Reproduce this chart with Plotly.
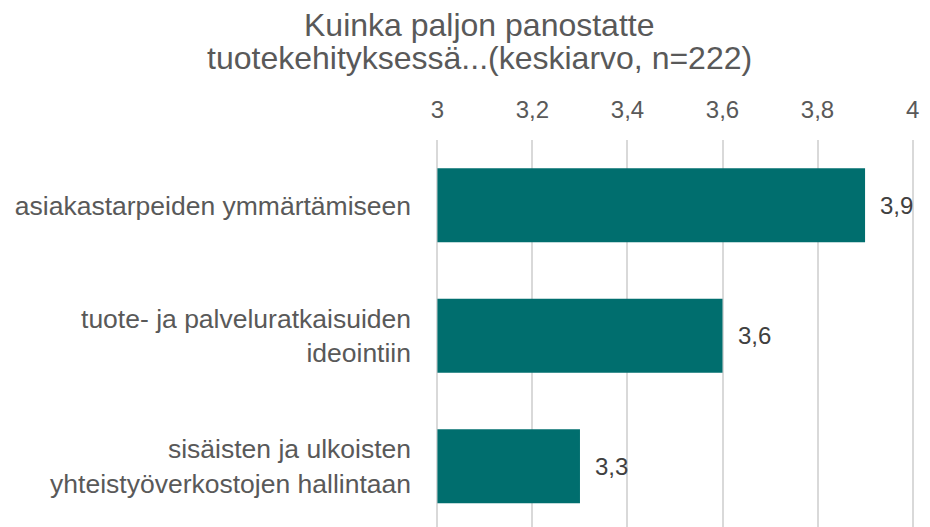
import plotly.graph_objects as go

categories = [
    "asiakastarpeiden ymmärtämiseen",
    "tuote- ja palveluratkaisuiden<br>ideointiin",
    "sisäisten ja ulkoisten<br>yhteistyöverkostojen hallintaan",
]
values = [3.9, 3.6, 3.3]
axis_base = 3
title_lines = ["Kuinka paljon panostatte", "tuotekehityksessä...(keskiarvo, n=222)"]

bar_color = "#006e6e"
grey = "#595959"
font_family = "Liberation Sans, Arial, sans-serif"

# the page body has an 8px margin, so the figure is drawn at (8, 8)
W, H = 922, 519
ML, MR, MT, MB = 428, 16, 132, 0

fig = go.Figure(
    go.Bar(
        x=[v - axis_base for v in values],
        base=[axis_base] * len(values),
        y=categories,
        orientation="h",
        marker=dict(color=bar_color, line=dict(width=0)),
        width=0.567,
        hoverinfo="skip",
    )
)

for c, v in zip(categories, values):
    fig.add_annotation(
        x=v, y=c, xref="x", yref="y",
        text=f"{v:.1f}".replace(".", ","),
        showarrow=False, xanchor="left", yanchor="middle", xshift=13,
        font=dict(family=font_family, size=24, color="#404040"),
    )

# title lines (two separate annotations for exact line spacing)
title_cx = (471 - ML) / (W - ML - MR)
for i, line in enumerate(title_lines):
    fig.add_annotation(
        x=title_cx, y=1, xref="paper", yref="paper", xanchor="center", yanchor="middle",
        yshift=[115, 82][i], text=line, showarrow=False,
        font=dict(family=font_family, size=32, color=grey),
    )

fig.update_layout(
    width=W, height=H,
    margin=dict(l=ML, r=MR, t=MT, b=MB, pad=0),
    paper_bgcolor="white", plot_bgcolor="white",
    separators=", ",
    showlegend=False,
    font=dict(family=font_family, color=grey),
    xaxis=dict(
        side="top", range=[2.997, 4.003], tick0=3, dtick=0.2,
        showgrid=True, gridcolor="#d9d9d9", gridwidth=2,
        zeroline=False, showline=False, ticks="", automargin=False,
        tickfont=dict(family=font_family, size=24, color=grey),
        ticklabelstandoff=16,
    ),
    yaxis=dict(
        type="category", categoryorder="array", categoryarray=categories,
        range=[2.466, -0.5], showgrid=False, zeroline=False, showline=False,
        ticks="", automargin=False,
        tickfont=dict(family=font_family, size=26.5, color=grey),
        ticklabelstandoff=24,
    ),
)

fig.write_html("out.html")
